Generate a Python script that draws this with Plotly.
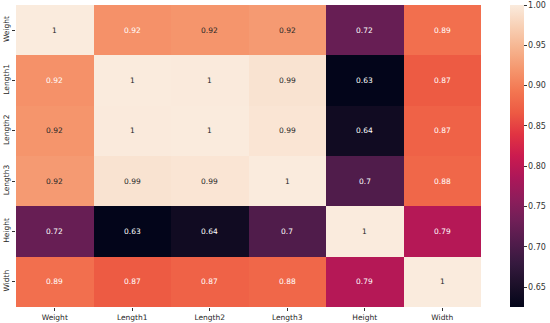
import plotly.graph_objects as go

labels = ["Weight", "Length1", "Length2", "Length3", "Height", "Width"]
corr = [
    [1.0, 0.9157, 0.9186, 0.9233, 0.7243, 0.8866],
    [0.9157, 1.0, 0.9995, 0.9920, 0.6254, 0.8670],
    [0.9186, 0.9995, 1.0, 0.9941, 0.6404, 0.8735],
    [0.9233, 0.9920, 0.9941, 1.0, 0.7034, 0.8785],
    [0.7243, 0.6254, 0.6404, 0.7034, 1.0, 0.7929],
    [0.8866, 0.8670, 0.8735, 0.8785, 0.7929, 1.0],
]
cbar_ticks = [0.65, 0.70, 0.75, 0.80, 0.85, 0.90, 0.95, 1.00]

rocket = [
    [0.0, "#03051a"], [0.0714, "#1c1029"], [0.1429, "#35193e"], [0.2143, "#521c4c"],
    [0.2857, "#701f57"], [0.3571, "#8e1d5b"], [0.4286, "#ad1759"], [0.5, "#cb1b4f"],
    [0.5714, "#e13342"], [0.6429, "#ed5a43"], [0.7143, "#f37651"], [0.7857, "#f5966d"],
    [0.8571, "#f6b48f"], [0.9286, "#f8d0b5"], [1.0, "#faebdd"],
]

zmin = min(min(r) for r in corr)
zmax = 1.0

def hex2rgb(h):
    h = h.lstrip("#")
    return [int(h[i:i + 2], 16) / 255 for i in (0, 2, 4)]

def colour_at(v):
    t = (v - zmin) / (zmax - zmin)
    for (p0, c0), (p1, c1) in zip(rocket[:-1], rocket[1:]):
        if p0 <= t <= p1:
            f = 0 if p1 == p0 else (t - p0) / (p1 - p0)
            a, b = hex2rgb(c0), hex2rgb(c1)
            return [a[i] + (b[i] - a[i]) * f for i in range(3)]
    return hex2rgb(rocket[-1][1])

def lum(rgb):
    out = []
    for c in rgb:
        out.append(c / 12.92 if c <= 0.03928 else ((c + 0.055) / 1.055) ** 2.4)
    return 0.2126 * out[0] + 0.7152 * out[1] + 0.0722 * out[2]

def fmt(v):
    return "%.2g" % v

fig = go.Figure(go.Heatmap(
    z=corr, x=labels, y=labels, colorscale=rocket, zmin=zmin, zmax=zmax,
    xgap=0, ygap=0, hoverinfo="skip",
    colorbar=dict(
        thickness=14, len=1.0, lenmode="fraction", y=0.5, yanchor="middle",
        x=1.0624, xanchor="left", xpad=0, ypad=0, outlinewidth=0,
        tickvals=cbar_ticks, ticktext=["%.2f" % t for t in cbar_ticks],
        ticks="outside", ticklen=3, tickcolor="#333",
        tickfont=dict(family="DejaVu Sans", size=8, color="#333"),
    ),
))

annotations = []
for i, row in enumerate(corr):
    for j, v in enumerate(row):
        col = "#262626" if lum(colour_at(v)) > 0.408 else "#ffffff"
        annotations.append(dict(
            x=labels[j], y=labels[i], text=fmt(v), showarrow=False,
            font=dict(family="DejaVu Sans", size=7.5, color=col),
        ))

fig.update_layout(
    width=550, height=323,
    margin=dict(l=16, r=69, t=5, b=16, autoexpand=False),
    paper_bgcolor="white", plot_bgcolor="white",
    annotations=annotations,
    xaxis=dict(ticks="outside", ticklen=3, tickcolor="#333", showgrid=False, zeroline=False,
               tickfont=dict(family="DejaVu Sans", size=7.5, color="#262626")),
    yaxis=dict(autorange="reversed", ticks="outside", ticklen=3, tickcolor="#333",
               tickangle=-90, showgrid=False, zeroline=False,
               tickfont=dict(family="DejaVu Sans", size=7.5, color="#262626")),
)

fig.write_html(
    "out.html",
    config={"displayModeBar": False},
    post_script="document.body.style.margin='0';document.body.style.overflow='hidden';",
)
